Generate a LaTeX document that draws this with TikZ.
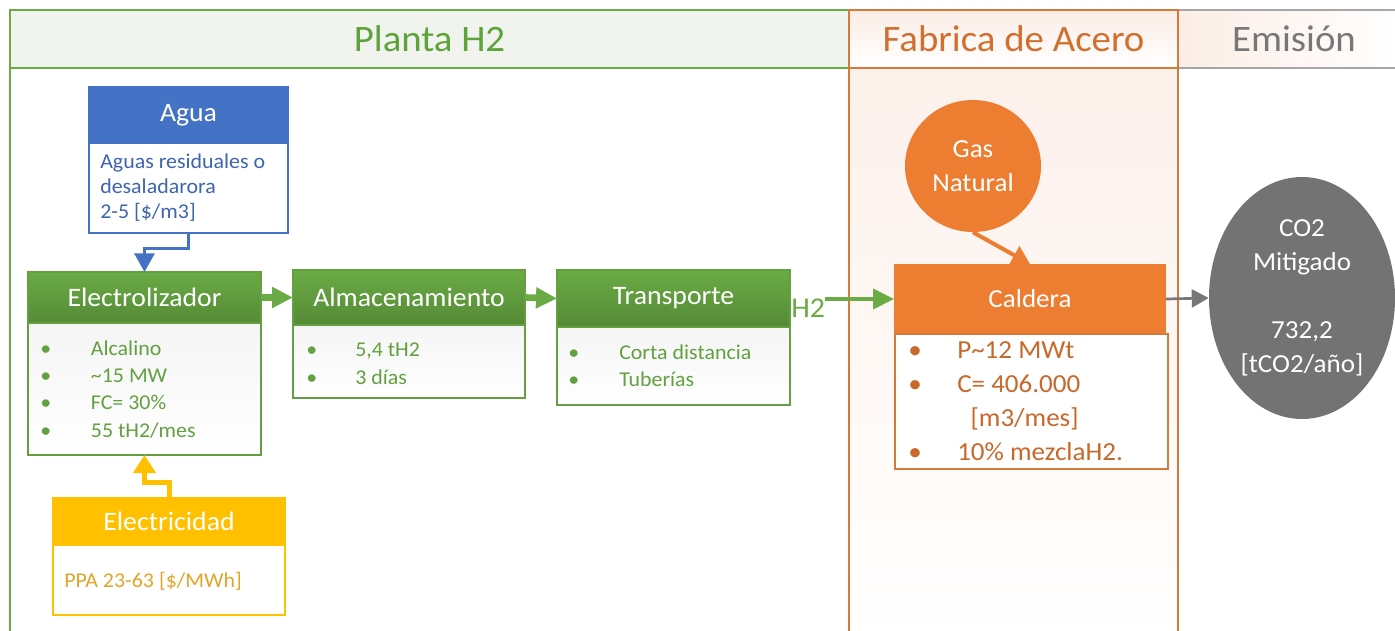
\documentclass[tikz,border=0pt]{standalone}
\usepackage{fontspec}
\setmainfont{Carlito}[FakeStretch=1.04]
\usetikzlibrary{arrows.meta,shapes.geometric}
\definecolor{gL}{HTML}{6AAB45}
\definecolor{gD}{HTML}{558A36}
\definecolor{gB}{HTML}{649F42}
\definecolor{gT}{HTML}{62A040}
\definecolor{gTitle}{HTML}{5EA33A}
\definecolor{bl}{HTML}{4472C4}
\definecolor{blT}{HTML}{3E65AE}
\definecolor{ye}{HTML}{FFC000}
\definecolor{yeT}{HTML}{E2A52A}
\definecolor{orn}{HTML}{ED7D31}
\definecolor{ornB}{HTML}{D67A3C}
\definecolor{ornT}{HTML}{C8692B}
\definecolor{oTitle}{HTML}{D0702F}
\definecolor{gr}{HTML}{737373}
\definecolor{grT}{HTML}{777777}
\definecolor{grB}{HTML}{A6A6A6}
\definecolor{pinkL}{HTML}{FCEDE6}
\definecolor{hdrG}{HTML}{F0F3EE}
\begin{document}
\begin{tikzpicture}[x=0.75pt,y=-0.75pt,
  box/.style args={#1/#2}{rectangle, minimum width=#1*0.75pt, minimum height=#2*0.75pt, inner sep=0pt, outer sep=0pt, anchor=north west},
  hfont/.style={font=\fontsize{20}{24}\selectfont},
  ghead/.style={draw=gB, line width=1.5pt, top color=gL, bottom color=gD, text=white, hfont},
  gbody/.style={draw=gB, line width=1.5pt, top color=gray!8, bottom color=white},
  gtext/.style={anchor=base west, inner sep=0pt, text=gT},
  title/.style={anchor=base, inner sep=0pt, font=\fontsize{28}{32}\selectfont},
  garrow/.style={draw=gL, line width=5pt, -{Triangle[width=15pt,length=15.75pt]}},
]
\useasboundingbox (0,0) rectangle (1395,631);
% ---------- panels ----------
\fill[hdrG] (10,10) rectangle (849,68);
\fill[top color=pinkL, bottom color=white] (849,10) rectangle (1178,68);
\fill[top color=pinkL!80, bottom color=white, shading angle=0] (849,68) rectangle (1178,640);
\fill[left color=pinkL, right color=white] (1178,10) rectangle (1400,68);
\draw[gL, line width=1.5pt] (849,10) -- (10,10) -- (10,640);
\draw[gL, line width=1.5pt] (10,68) -- (849,68);
\draw[grB, line width=1.5pt] (1178,10) -- (1400,10);
\draw[grB, line width=1.5pt] (1178,68) -- (1400,68);
\draw[ornB, line width=1.5pt] (849,640) -- (849,10) -- (1178,10) -- (1178,640);
\draw[ornB, line width=1.5pt] (849,68) -- (1178,68);
\node[title, text=gTitle] (tplanta) at (429.5,52) {Planta H2};
\node[title, text=oTitle] (tfab) at (1013.5,52) {Fabrica de Acero};
\node[title, text=grT] (temi) at (1294,52) {Emisión};
% ---------- Agua ----------
\node[box=199/56, draw=bl, line width=1.5pt, fill=bl, text=white, hfont] (ah2o) at (89,87) {Agua};
\node[box=199/90, draw=bl, line width=1.5pt, fill=white] (ab) at (89,143) {};
\node[gtext, text=blT, font=\fontsize{15.8}{18.4}\selectfont] (abt) at (100,169)
  {\begin{tabular}[t]{@{}l@{}}Aguas residuales o\\desaladarora\\2-5 [\$/m3]\end{tabular}};
% ---------- Electrolizador ----------
\node[box=233/51, ghead] (eh) at (28,272) {Electrolizador};
\node[box=233/132, gbody] (eb) at (28,323) {};
\node[gtext, font=\fontsize{15.8}{20.5}\selectfont] (ebt) at (40,355)
  {\begin{tabular}[t]{@{}p{38pt}@{}l@{}}\textbullet & Alcalino\\ \textbullet & \textasciitilde15 MW\\ \textbullet & FC= 30\%\\ \textbullet & 55 tH2/mes\end{tabular}};
% ---------- Almacenamiento ----------
\node[box=232/55, ghead] (alh) at (293,270) {Almacenamiento};
\node[box=232/73, gbody] (alb) at (293,325) {};
\node[gtext, font=\fontsize{15.8}{21}\selectfont] (albt) at (306,356)
  {\begin{tabular}[t]{@{}p{36.75pt}@{}l@{}}\textbullet & 5,4 tH2\\ \textbullet & 3 días\end{tabular}};
% ---------- Transporte ----------
\node[box=233/57, ghead] (th) at (557,270) {Transporte};
\node[box=233/78, gbody] (tb) at (557,327) {};
\node[gtext, font=\fontsize{15.8}{20.3}\selectfont] (tbt) at (568,359)
  {\begin{tabular}[t]{@{}p{38.25pt}@{}l@{}}\textbullet & Corta distancia\\ \textbullet & Tuberías\end{tabular}};
% ---------- Electricidad ----------
\node[box=232/47, draw=ye, line width=1.5pt, fill=ye, text=white, hfont] (elh) at (53,498) {Electricidad};
\node[box=232/70, draw=ye, line width=1.5pt, fill=white] (elb) at (53,545) {};
\node[gtext, text=yeT, font=\fontsize{15.8}{18}\selectfont] (elbt) at (64,587) {PPA 23-63 [\$/MWh]};
% ---------- Fabrica ----------
\node[ellipse, fill=orn, minimum width=136*0.75pt, minimum height=132*0.75pt, inner sep=0pt,
  text=white, align=center, font=\fontsize{19.5}{25.5}\selectfont] (gas) at (973,166) {Gas\\Natural};
\node[box=272/70, fill=orn, text=white, font=\fontsize{19.5}{23}\selectfont] (ch) at (894,264) {Caldera};
\node[box=273/135, draw=ornB, line width=1.5pt, fill=white] (cb) at (895,334) {};
\node[gtext, text=ornT, font=\fontsize{19.5}{25.7}\selectfont] (cbt) at (908,358)
  {\begin{tabular}[t]{@{}p{36.75pt}@{}l@{}}\textbullet & P\textasciitilde12 MWt\\ \textbullet & C= 406.000\\ & \hspace{10pt}[m3/mes]\\ \textbullet & 10\% mezclaH2.\end{tabular}};
% ---------- Emision ----------
\node[ellipse, fill=gr, minimum width=186*0.75pt, minimum height=242*0.75pt, inner sep=0pt,
  text=white, align=center, font=\fontsize{19.5}{25.5}\selectfont] (co2) at (1302,298) {CO2\\Mitigado\\\mbox{}\\732,2\\{}[tCO2/año]};
% ---------- connectors ----------
\draw[bl, line width=2.25pt, -{Triangle[width=15pt,length=14pt]}] (ab.south) -- ++(0,15) -| (eh.north);
\draw[ye, line width=3.75pt, -{Triangle[width=16.5pt,length=13.5pt]}] (elh.north) -- ++(0,-16) -| (eb.south);
\draw[garrow] (eh.east) -- (alh.west);
\draw[garrow] (alh.east) -- (th.west);
\node[anchor=west, inner sep=0pt, text=gL, font=\fontsize{21.5}{25}\selectfont] (h2) at (791,308) {H2};
\draw[gL, line width=3pt, -{Triangle[width=15pt,length=15.75pt]}] (h2.east |- ch.west) -- (ch.west);
\draw[orn, line width=3pt, -{Triangle[width=15pt,length=13.5pt]}] (gas.south) -- (ch.north);
\draw[grT, line width=2pt, -{Triangle[width=13.5pt,length=12.75pt]}] (ch.east) -- (co2.west);
\end{tikzpicture}
\end{document}
